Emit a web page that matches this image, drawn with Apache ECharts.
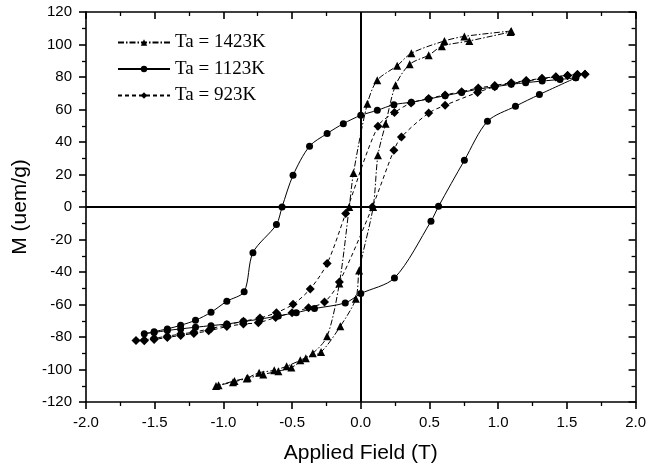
<!DOCTYPE html>
<html>
<head>
<meta charset="utf-8">
<script src="https://cdn.jsdelivr.net/npm/echarts@6/dist/echarts.min.js"></script>
<style>html,body{margin:0;padding:0;background:#fff}#c{width:649px;height:470px}</style>
</head>
<body>
<div id="c"></div>
<script>
// Tick settings
var xTicks = [-2.0, -1.5, -1.0, -0.5, 0.0, 0.5, 1.0, 1.5, 2.0];
var yTicks = [-120, -100, -80, -60, -40, -20, 0, 20, 40, 60, 80, 100, 120];
var seriesNames = ['Ta = 1423K', 'Ta = 1123K', 'Ta = 923K'];

// Ta = 1423K : descending branch then ascending branch
var ta1423Desc = [[1.095,108.3],[0.754,105],[0.609,102.2],[0.368,94.6],[0.265,87],[0.12,78],[0.048,63.6],[-0.053,21],[-0.084,0],[-0.156,-47],[-0.245,-79.6],[-0.349,-90],[-0.44,-94.3],[-0.54,-98],[-0.63,-100.5],[-0.74,-102],[-0.823,-105],[-0.919,-107],[-1.054,-110.2]];
var ta1423Asc = [[-1.035,-109.7],[-0.93,-107.8],[-0.83,-105.5],[-0.71,-103],[-0.6,-101],[-0.505,-98.8],[-0.4,-93],[-0.289,-89.2],[-0.149,-73.4],[-0.036,-56.4],[-0.012,-39],[0.09,0],[0.125,31.8],[0.181,51.3],[0.253,74.9],[0.356,87.8],[0.494,93.4],[0.59,98.9],[0.79,102.2],[1.09,107.7]];

// Ta = 1123K
var ta1123Desc = [[1.565,79.5],[1.45,78.5],[1.32,77.5],[1.2,76.5],[1.095,75.5],[0.975,74],[0.855,72.5],[0.734,70.5],[0.614,68.5],[0.494,66.5],[0.368,64.5],[0.241,63],[0.12,59.5],[0,56.4],[-0.127,51.3],[-0.245,45.2],[-0.373,37.4],[-0.493,19.5],[-0.573,0],[-0.614,-10.8],[-0.785,-28.1],[-0.849,-52.1],[-0.975,-58],[-1.09,-64.8],[-1.203,-69.7],[-1.311,-72.8],[-1.408,-75],[-1.504,-76.7],[-1.576,-78]];
var ta1123Asc = [[-1.504,-77.2],[-1.408,-76],[-1.311,-75],[-1.203,-74],[-1.09,-73],[-0.975,-72],[-0.854,-70.5],[-0.734,-69],[-0.6,-67],[-0.47,-65],[-0.337,-62.5],[-0.113,-59],[0,-53.3],[0.245,-43.7],[0.511,-8.8],[0.566,0.4],[0.754,28.7],[0.922,52.7],[1.126,62],[1.3,69.2],[1.565,79.5]];

// Ta = 923K
var ta923Desc = [[1.632,81.7],[1.577,81.5],[1.505,81],[1.42,80.2],[1.319,79.2],[1.204,77.8],[1.095,76.5],[0.975,74.8],[0.855,73.2],[0.734,71],[0.614,69],[0.494,66.7],[0.366,64],[0.245,58.1],[0.125,49.7],[-0.11,-4],[-0.245,-34.8],[-0.368,-50.4],[-0.493,-59.9],[-0.614,-65],[-0.734,-68.3],[-0.854,-70.3],[-0.975,-72.5],[-1.09,-74.8],[-1.215,-77],[-1.311,-78.2],[-1.408,-79.5],[-1.504,-80.8],[-1.576,-81.8],[-1.636,-82.2]];
var ta923Asc = [[-1.576,-82.3],[-1.504,-81.5],[-1.408,-80.3],[-1.311,-79],[-1.215,-77.8],[-1.107,-76.2],[-0.975,-73.6],[-0.854,-72],[-0.746,-71.2],[-0.62,-68],[-0.5,-65],[-0.38,-62],[-0.264,-58.5],[-0.156,-46.2],[0.084,0],[0.241,34.9],[0.296,43.1],[0.494,57.8],[0.614,62.6],[0.85,70.5],[0.975,74],[1.095,76],[1.204,77.5],[1.319,78.8],[1.42,80],[1.505,81],[1.577,81.5],[1.632,81.7]];

var chart = echarts.init(document.getElementById('c'), null, {renderer: 'canvas'});
var sans = 'Liberation Sans, Arial, sans-serif';
var serif = 'Liberation Serif, Times New Roman, serif';

function xAxisDef(pos) {
  var bottom = pos === 'bottom';
  return {
    type: 'value', position: pos, min: xTicks[0], max: xTicks[xTicks.length - 1], interval: 0.5,
    axisLine: {show: true, onZero: false, lineStyle: {color: '#000', width: 1.6}},
    axisTick: {show: true, inside: !bottom, length: 7, lineStyle: {color: '#000', width: 1.6}},
    minorTick: {show: true, splitNumber: 2, length: 4, lineStyle: {color: '#000', width: 1.3}},
    axisLabel: {show: bottom, color: '#000', fontFamily: sans, fontSize: 15, margin: 13,
      formatter: function (v) { return v.toFixed(1); }},
    splitLine: {show: false},
    name: bottom ? 'Applied Field (T)' : '', nameLocation: 'middle', nameGap: 41,
    nameTextStyle: {color: '#000', fontFamily: sans, fontSize: 21}
  };
}
function yAxisDef(pos) {
  var left = pos === 'left';
  return {
    type: 'value', position: pos, min: yTicks[0], max: yTicks[yTicks.length - 1], interval: 20,
    axisLine: {show: true, onZero: false, lineStyle: {color: '#000', width: 1.6}},
    axisTick: {show: true, inside: !left, length: 7, lineStyle: {color: '#000', width: 1.6}},
    minorTick: {show: true, splitNumber: 2, length: 4, lineStyle: {color: '#000', width: 1.3}},
    axisLabel: {show: left, color: '#000', fontFamily: sans, fontSize: 15, margin: 14},
    splitLine: {show: false},
    name: left ? 'M (uem/g)' : '', nameLocation: 'middle', nameGap: 52,
    nameTextStyle: {color: '#000', fontFamily: sans, fontSize: 21}
  };
}

function loopSeries(name, desc, asc, symbol, size, dash) {
  return {
    name: name, type: 'line', xAxisIndex: 0, yAxisIndex: 0,
    data: desc.concat(asc), smooth: 0.3,
    symbol: symbol, symbolSize: size, showSymbol: true,
    itemStyle: {color: '#000'},
    lineStyle: {color: '#000', width: 1, type: dash},
    animation: false
  };
}

var s1423 = loopSeries(seriesNames[0], ta1423Desc, ta1423Asc, 'triangle', 8, [6, 2, 1.5, 2]);
var s1123 = loopSeries(seriesNames[1], ta1123Desc, ta1123Asc, 'circle', 7, 'solid');
var s923 = loopSeries(seriesNames[2], ta923Desc, ta923Asc, 'diamond', 9, [4, 3]);
s1123.markLine = {
  silent: true, symbol: ['none', 'none'], label: {show: false}, animation: false,
  lineStyle: {color: '#000', width: 2, type: 'solid'},
  data: [{xAxis: 0}, {yAxis: 0}]
};

chart.setOption({
  backgroundColor: '#fff',
  animation: false,
  grid: {left: 86, right: 9, top: 12, bottom: 68, containLabel: false},
  legend: {
    data: seriesNames, orient: 'vertical', left: 112, top: 28,
    itemWidth: 52, itemHeight: 8, itemGap: 7.5,
    textStyle: {color: '#000', fontFamily: serif, fontSize: 19, lineHeight: 19}
  },
  xAxis: [xAxisDef('bottom'), xAxisDef('top')],
  yAxis: [yAxisDef('left'), yAxisDef('right')],
  series: [s1423, s1123, s923]
});
</script>
</body>
</html>
